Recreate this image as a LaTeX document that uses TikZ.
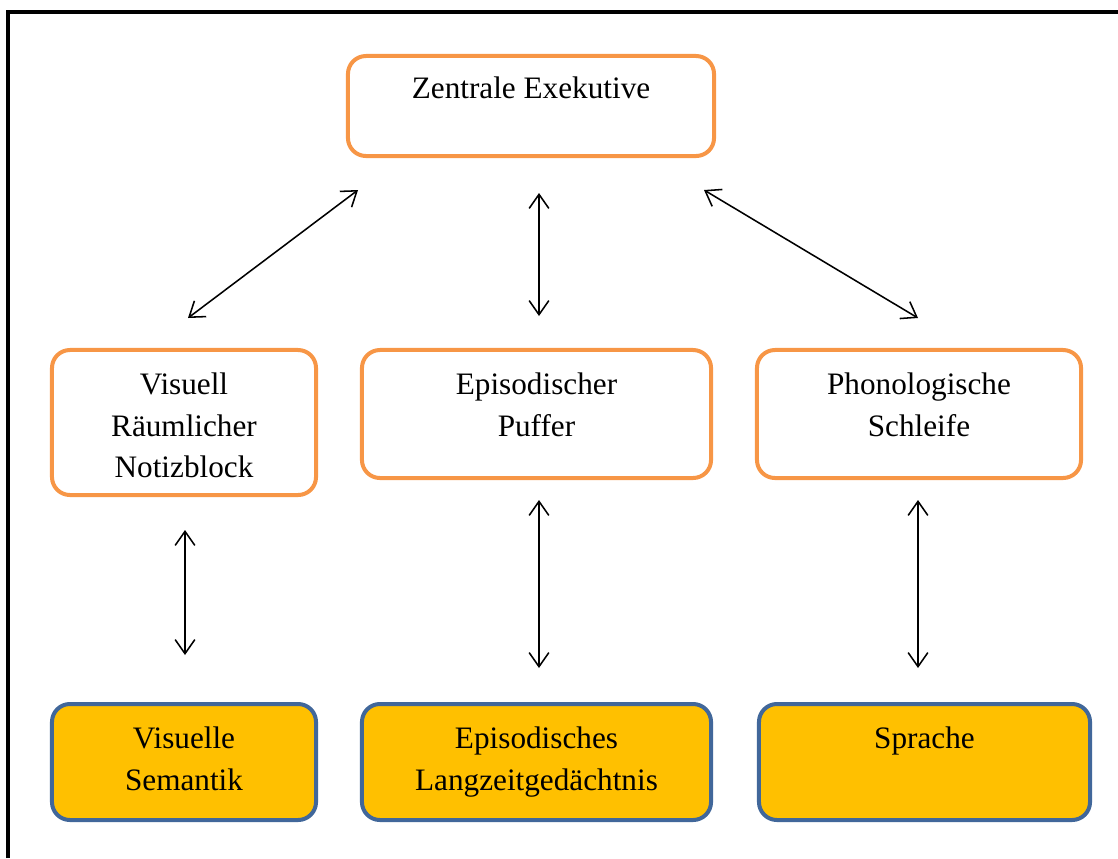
\documentclass[tikz,border=0pt]{standalone}
\usepackage{fontspec}
\setmainfont{Liberation Serif}
\usetikzlibrary{arrows.meta}
\definecolor{boxorange}{HTML}{F79646}
\definecolor{storefill}{HTML}{FFC000}
\definecolor{storeblue}{HTML}{41679A}

\begin{document}
\begin{tikzpicture}[x=0.025cm, y=-0.025cm,
    component/.style ={rectangle, rounded corners=0.45cm, draw=boxorange, line width=0.1cm, fill=white},
    store/.style ={rectangle, rounded corners=0.45cm, draw=storeblue, line width=0.1cm, fill=storefill},
    boxtext/.style ={anchor=north, inner sep=0pt, align=center, font=\fontsize{22.2}{29.6}\selectfont},
    link/.style ={line width=1.1pt, {Straight Barb[length=10pt, width=14pt]}-{Straight Barb[length=10pt, width=14pt]}}]
   \useasboundingbox (0,0) rectangle (1118,858);
   % frame
   \draw[line width=0.1cm] (8,858) -- (8,11.5) -- (1118,11.5);
   % working memory components
   \node[component, minimum width=9.15cm, minimum height=2.5cm] (ZE) at (531,106) {};
   \node[component, minimum width=6.6cm, minimum height=3.625cm] (VR) at (184,422.5) {};
   \node[component, minimum width=8.725cm, minimum height=3.2cm] (EP) at (536.5,414) {};
   \node[component, minimum width=8.1cm, minimum height=3.2cm] (PS) at (919,414) {};
   % long-term stores
   \node[store, minimum width=6.6cm, minimum height=2.9cm] (VS) at (184,762) {};
   \node[store, minimum width=8.725cm, minimum height=2.9cm] (EL) at (536.5,762) {};
   \node[store, minimum width=8.275cm, minimum height=2.9cm] (SP) at (924.5,762) {};
   % texts
   \node[boxtext] (ZEt) at (531,76.5) {Zentrale Exekutive};
   \node[boxtext] (VRt) at (184,372.5) {Visuell\\Räumlicher\\Notizblock};
   \node[boxtext] (EPt) at (536.5,372.5) {Episodischer\\Puffer};
   \node[boxtext] (PSt) at (919,372.5) {Phonologische\\Schleife};
   \node[boxtext] (VSt) at (184,726.5) {Visuelle\\Semantik};
   \node[boxtext] (ELt) at (536.5,726.5) {Episodisches\\Langzeitgedächtnis};
   \node[boxtext] (SPt) at (924.5,726.5) {Sprache};
   % arrow ends
   \coordinate (a1) at (188,318);  \coordinate (b1) at (358,190);
   \coordinate (a2) at (539,316);  \coordinate (b2) at (539,193);
   \coordinate (a3) at (918,318);  \coordinate (b3) at (704,190);
   \coordinate (a4) at (185,655);  \coordinate (b4) at (185,530);
   \coordinate (a5) at (539,668);  \coordinate (b5) at (539,500);
   \coordinate (a6) at (918,668);  \coordinate (b6) at (918,500);
   \draw[link] (a1) -- (b1);
   \draw[link] (a2) -- (b2);
   \draw[link] (a3) -- (b3);
   \draw[link] (a4) -- (b4);
   \draw[link] (a5) -- (b5);
   \draw[link] (a6) -- (b6);
\end{tikzpicture}
\end{document}
